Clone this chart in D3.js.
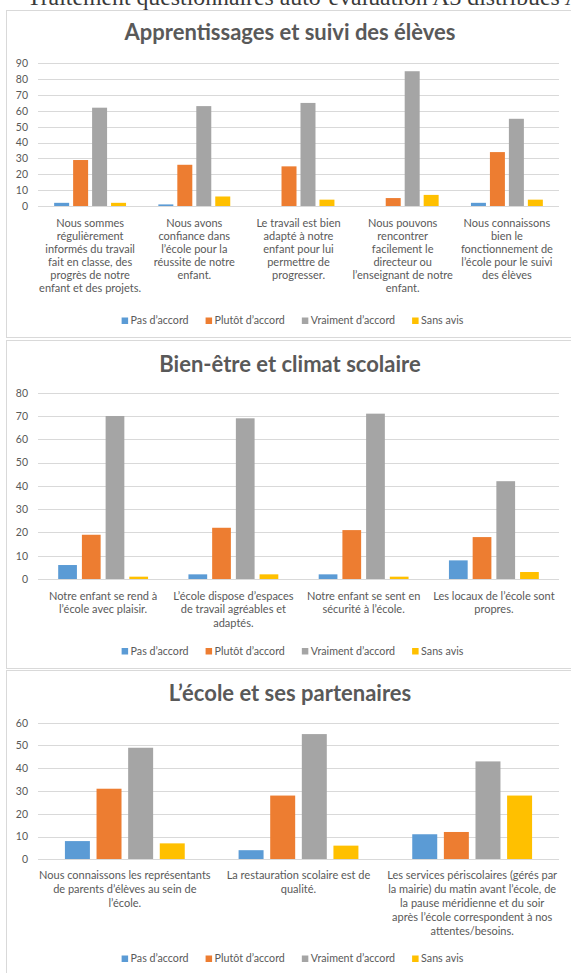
<!DOCTYPE html>
<html>
<head>
<meta charset="utf-8">
<script src="https://cdn.jsdelivr.net/npm/d3@7"></script>
<style>
  html, body { margin: 0; padding: 0; background: #fff; }
  svg { display: block; }
</style>
</head>
<body>
<svg id="chart" width="571" height="973"></svg>
<script>
// ---------- DATA ----------
const seriesNames = ["Pas d’accord", "Plutôt d’accord", "Vraiment d’accord", "Sans avis"];
const seriesColors = ["#5B9BD5", "#ED7D31", "#A5A5A5", "#FFC000"];

const headerText = "Traitement questionnaires auto-évaluation A3 distribués A";

const title1 = "Apprentissages et suivi des élèves";
const categories1 = [
  "Nous sommes\nrégulièrement\ninformés du travail\nfait en classe, des\nprogrès de notre\nenfant et des projets.",
  "Nous avons\nconfiance dans\nl’école pour la\nréussite de notre\nenfant.",
  "Le travail est bien\nadapté à notre\nenfant pour lui\npermettre de\nprogresser.",
  "Nous pouvons\nrencontrer\nfacilement le\ndirecteur ou\nl’enseignant de notre\nenfant.",
  "Nous connaissons\nbien le\nfonctionnement de\nl’école pour le suivi\ndes élèves"
];
const pasAccord1 = [2, 1, 0, 0, 2];
const plutotAccord1 = [29, 26, 25, 5, 34];
const vraimentAccord1 = [62, 63, 65, 85, 55];
const sansAvis1 = [2, 6, 4, 7, 4];
const ticks1 = [0, 10, 20, 30, 40, 50, 60, 70, 80, 90];

const title2 = "Bien-être et climat scolaire";
const categories2 = [
  "Notre enfant se rend à\nl’école avec plaisir.",
  "L’école dispose d’espaces\nde travail agréables et\nadaptés.",
  "Notre enfant se sent en\nsécurité à l’école.",
  "Les locaux de l’école sont\npropres."
];
const pasAccord2 = [6, 2, 2, 8];
const plutotAccord2 = [19, 22, 21, 18];
const vraimentAccord2 = [70, 69, 71, 42];
const sansAvis2 = [1, 2, 1, 3];
const ticks2 = [0, 10, 20, 30, 40, 50, 60, 70, 80];

const title3 = "L’école et ses partenaires";
const categories3 = [
  "Nous connaissons les représentants\nde parents d’élèves au sein de\nl’école.",
  "La restauration scolaire est de\nqualité.",
  "Les services périscolaires (gérés par\nla mairie) du matin avant l’école, de\nla pause méridienne et du soir\naprès l’école correspondent à nos\nattentes/besoins."
];
const pasAccord3 = [8, 4, 11];
const plutotAccord3 = [31, 28, 12];
const vraimentAccord3 = [49, 55, 43];
const sansAvis3 = [7, 6, 28];
const ticks3 = [0, 10, 20, 30, 40, 50, 60];

// ---------- DRAWING ----------
const svg = d3.select("#chart");
const FONT = "Lato, 'Open Sans', sans-serif";
const TXT = "#595959";
const GRID = "#d9d9d9";

svg.append("rect").attr("width", 571).attr("height", 973).attr("fill", "#fff");

// header text (cut off at top of page, as in the source document)
const header = svg.append("text")
  .attr("x", 27).attr("y", 4.5)
  .attr("font-family", "'Liberation Serif', 'DejaVu Serif', serif")
  .attr("font-size", 20)
  .attr("fill", "#3a3a3a")
  .text(headerText);
{
  const probe = svg.append("text").attr("font-family", "'Liberation Serif', serif").attr("font-size", 20)
    .text("Traitement questionnaires auto-évaluation A3 distribués");
  const w = probe.node().getComputedTextLength();
  probe.remove();
  header.attr("font-size", 20 * 533 / w);
}

const plotLeft = 38, plotRight = 559;

function drawPanel(o) {
  const g = svg.append("g");
  g.append("rect")
    .attr("x", 6.5).attr("y", o.boxTop + 0.5)
    .attr("width", 620).attr("height", o.boxBottom - o.boxTop)
    .attr("fill", "#fff").attr("stroke", GRID).attr("stroke-width", 1);

  g.append("text")
    .attr("x", 290).attr("y", o.titleY)
    .attr("text-anchor", "middle")
    .attr("font-family", FONT).attr("font-weight", 700)
    .attr("font-size", o.titleSize).attr("fill", TXT)
    .text(o.title);

  const y = d3.scaleLinear().domain([0, d3.max(o.ticks)]).range([o.plotBottom, o.plotTop]);
  const x0 = d3.scaleBand().domain(d3.range(o.categories.length)).range([plotLeft, plotRight]).padding(0);
  const groupW = x0.bandwidth() * 0.69;
  const x1 = d3.scaleBand().domain(d3.range(seriesNames.length)).range([0, groupW]).paddingInner(0.21).paddingOuter(0);

  const ax = g.append("g")
    .attr("transform", `translate(${plotLeft},0)`)
    .call(d3.axisLeft(y).tickValues(o.ticks).tickSize(-(plotRight - plotLeft)).tickPadding(10));
  ax.select(".domain").remove();
  ax.selectAll(".tick line").attr("stroke", GRID).attr("stroke-width", 1)
    .attr("shape-rendering", "crispEdges");
  ax.selectAll(".tick text").attr("fill", TXT).attr("font-family", FONT).attr("font-size", o.tickSize);

  const values = o.values;
  const cat = g.selectAll("g.cat").data(o.categories.map((c, i) => i)).join("g")
    .attr("class", "cat")
    .attr("transform", i => `translate(${x0(i) + (x0.bandwidth() - groupW) / 2},0)`);
  cat.selectAll("rect").data(i => values.map((s, k) => ({ k, v: s[i] }))).join("rect")
    .attr("x", d => x1(d.k))
    .attr("width", x1.bandwidth())
    .attr("y", d => y(d.v))
    .attr("height", d => y(0) - y(d.v))
    .attr("fill", d => seriesColors[d.k]);

  g.append("line").attr("x1", plotLeft).attr("x2", plotRight)
    .attr("y1", Math.round(y(0)) + 0.5).attr("y2", Math.round(y(0)) + 0.5)
    .attr("stroke", GRID);

  o.categories.forEach((c, i) => {
    const t = g.append("text")
      .attr("font-family", FONT).attr("font-size", o.labelSize).attr("fill", TXT)
      .attr("text-anchor", "middle");
    c.split("\n").forEach((line, j) => {
      t.append("tspan")
        .attr("x", x0(i) + x0.bandwidth() / 2)
        .attr("y", o.labelY + j * o.labelLH)
        .text(line);
    });
  });

  const lg = g.append("g");
  let cx = 0;
  seriesNames.forEach((n, k) => {
    lg.append("rect").attr("x", cx).attr("y", o.legendY - 6.5).attr("width", 6.5).attr("height", 6.5)
      .attr("fill", seriesColors[k]);
    const t = lg.append("text").attr("x", cx + 9).attr("y", o.legendY)
      .attr("font-family", FONT).attr("font-size", o.legendSize).attr("fill", TXT).text(n);
    cx += 9 + t.node().getComputedTextLength() + 17;
  });
  const total = cx - 17;
  lg.attr("transform", `translate(${292.5 - total / 2},0)`);
}

drawPanel({
  boxTop: 10, boxBottom: 337,
  title: title1, titleY: 40, titleSize: 22,
  plotTop: 63.3, plotBottom: 206, ticks: ticks1,
  categories: categories1,
  values: [pasAccord1, plutotAccord1, vraimentAccord1, sansAvis1],
  tickSize: 10.5, labelY: 227, labelLH: 13, labelSize: 11,
  legendY: 324, legendSize: 10.7
});

drawPanel({
  boxTop: 340, boxBottom: 668,
  title: title2, titleY: 372, titleSize: 22,
  plotTop: 392.7, plotBottom: 579, ticks: ticks2,
  categories: categories2,
  values: [pasAccord2, plutotAccord2, vraimentAccord2, sansAvis2],
  tickSize: 10.5, labelY: 599.5, labelLH: 13.7, labelSize: 11,
  legendY: 654.5, legendSize: 10.7
});

drawPanel({
  boxTop: 670, boxBottom: 1000,
  title: title3, titleY: 701, titleSize: 22,
  plotTop: 722.7, plotBottom: 859.3, ticks: ticks3,
  categories: categories3,
  values: [pasAccord3, plutotAccord3, vraimentAccord3, sansAvis3],
  tickSize: 10.5, labelY: 878.5, labelLH: 14.2, labelSize: 11,
  legendY: 962, legendSize: 10.7
});
</script>
</body>
</html>
